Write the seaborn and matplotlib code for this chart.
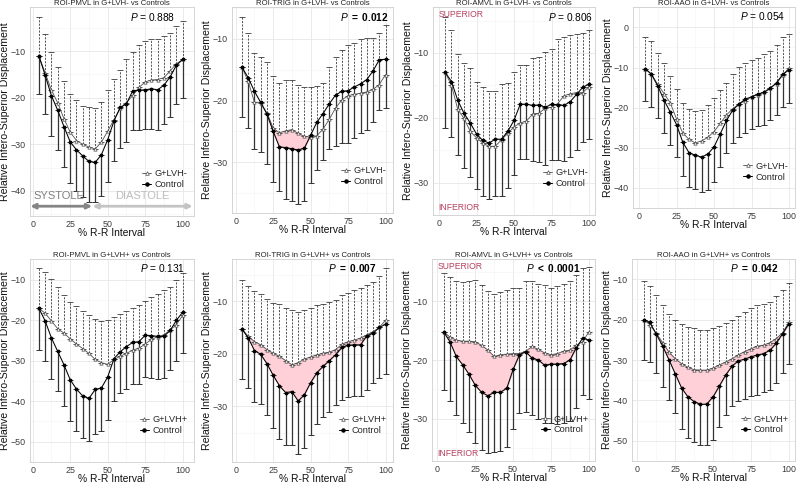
import numpy as np
import pandas as pd
import matplotlib
matplotlib.use("Agg")
import matplotlib.pyplot as plt
import seaborn as sns
from matplotlib.lines import Line2D

sns.set_theme(style="whitegrid")
plt.rcParams["font.family"] = ["Liberation Sans", "DejaVu Sans"]
plt.rcParams["mathtext.fontset"] = "custom"
plt.rcParams["mathtext.it"] = "Liberation Sans:italic"
plt.rcParams["mathtext.bf"] = "Liberation Sans:bold"
plt.rcParams["mathtext.rm"] = "Liberation Sans"

# ---------------- data ----------------
rr_pct = [4.17, 8.33, 12.5, 16.67, 20.83, 25.0, 29.17, 33.33, 37.5, 41.67, 45.83, 50.0,
          54.17, 58.33, 62.5, 66.67, 70.83, 75.0, 79.17, 83.33, 87.5, 91.67, 95.83, 100.0]

# Panel 1: ROI-PMVL, G+LVH- vs Controls
pmvl_neg_g_mean = [-11.1, -14.7, -18.4, -21.1, -24.5, -27.4, -29.2, -30.0, -30.6, -31.0, -29.5, -27.2,
                   -24.7, -22.3, -21.1, -19.5, -17.8, -16.6, -16.2, -16.1, -15.7, -14.2, -12.7, -11.8]
pmvl_neg_g_upper = [-2.6, -6.3, -10.1, -13.4, -16.5, -19.3, -20.6, -21.7, -22.0, -22.3, -21.0, -18.3,
                    -15.9, -14.0, -11.6, -10.1, -8.7, -7.8, -7.4, -7.3, -6.8, -6.1, -4.6, -3.5]
pmvl_neg_c_mean = [-11.1, -15.2, -19.6, -22.7, -26.2, -29.5, -31.2, -32.5, -33.7, -33.9, -32.2, -29.0,
                   -25.0, -22.1, -21.3, -18.5, -18.4, -18.3, -18.1, -18.3, -17.3, -15.5, -13.0, -11.8]
pmvl_neg_c_lower = [-19.3, -23.6, -28.2, -31.2, -34.9, -38.4, -40.0, -41.4, -42.4, -42.5, -41.1, -38.0,
                    -33.6, -30.7, -29.5, -27.0, -26.9, -26.8, -26.7, -26.9, -25.7, -24.1, -21.3, -20.1]

# Panel 2: ROI-TRIG, G+LVH- vs Controls
trig_neg_g_mean = [-14.6, -16.9, -20.3, -20.4, -22.0, -24.5, -25.2, -24.9, -24.7, -25.3, -25.8, -25.9,
                   -25.7, -24.6, -23.0, -21.2, -19.9, -19.2, -19.0, -18.8, -18.6, -18.2, -17.4, -15.8]
trig_neg_g_upper = [-6.4, -9.1, -12.3, -12.9, -13.7, -16.0, -17.1, -16.6, -16.6, -17.4, -17.8, -17.8,
                    -17.6, -17.1, -14.5, -13.0, -11.8, -11.0, -10.6, -10.0, -9.9, -9.8, -9.1, -7.7]
trig_neg_c_mean = [-14.6, -16.3, -18.5, -20.3, -22.2, -25.0, -27.5, -27.6, -27.8, -28.0, -27.7, -25.6,
                   -23.5, -22.1, -20.5, -19.1, -18.5, -18.4, -17.8, -17.3, -16.6, -15.2, -13.4, -13.3]
trig_neg_c_lower = [-22.6, -24.4, -27.9, -28.4, -30.2, -33.2, -34.6, -35.9, -36.3, -36.7, -36.3, -33.4,
                    -31.3, -29.6, -27.8, -27.3, -26.9, -26.8, -26.0, -25.3, -24.8, -23.4, -21.5, -21.2]

# Panel 3: ROI-AMVL, G+LVH- vs Controls
amvl_neg_g_mean = [-13.0, -15.0, -18.7, -20.1, -22.1, -23.1, -23.9, -24.4, -24.4, -23.4, -22.4, -21.4,
                   -20.8, -20.5, -19.4, -19.3, -18.5, -18.4, -17.8, -16.6, -16.3, -16.1, -16.1, -15.2]
amvl_neg_g_upper = [-4.5, -6.5, -10.1, -11.5, -12.3, -14.4, -15.3, -15.9, -15.9, -14.8, -14.6, -13.0,
                    -11.9, -11.8, -10.8, -10.6, -9.8, -9.4, -7.8, -7.5, -7.3, -7.1, -6.9, -6.5]
amvl_neg_c_mean = [-13.0, -14.4, -17.3, -19.3, -20.8, -22.5, -23.5, -23.9, -23.3, -23.3, -22.1, -20.4,
                   -17.9, -17.9, -18.1, -18.0, -18.4, -17.9, -18.0, -18.1, -17.5, -16.4, -15.3, -14.8]
amvl_neg_c_lower = [-21.5, -22.9, -25.8, -27.8, -29.1, -31.0, -32.1, -32.6, -32.0, -32.0, -30.8, -28.9,
                    -26.4, -26.4, -26.6, -26.8, -27.3, -26.5, -26.5, -26.7, -26.1, -25.0, -23.7, -23.2]

# Panel 4: ROI-AAO, G+LVH- vs Controls
aao_neg_g_mean = [-10.3, -11.7, -14.2, -16.5, -18.8, -22.8, -26.3, -27.9, -28.8, -28.3, -27.4, -26.0,
                  -23.9, -21.8, -20.3, -19.1, -18.3, -17.3, -16.8, -16.1, -15.0, -14.0, -11.9, -10.1]
aao_neg_g_upper = [-2.4, -3.5, -6.3, -8.9, -12.0, -15.4, -18.8, -20.3, -20.9, -20.5, -19.4, -17.7,
                   -15.5, -13.8, -11.7, -9.9, -8.9, -8.2, -7.7, -6.6, -5.9, -4.5, -2.4, -1.7]
aao_neg_c_mean = [-10.3, -11.7, -14.6, -18.1, -21.1, -24.2, -28.6, -31.2, -31.9, -32.3, -31.6, -29.8,
                  -26.5, -23.2, -20.6, -19.1, -17.9, -17.3, -16.6, -16.2, -15.2, -13.8, -11.7, -10.6]
aao_neg_c_lower = [-18.3, -19.8, -22.6, -26.2, -29.3, -32.3, -37.0, -39.7, -40.3, -41.0, -40.6, -38.4,
                   -34.7, -31.4, -28.8, -27.2, -26.3, -25.3, -24.6, -24.2, -23.0, -21.8, -19.9, -18.8]

# Panel 5: ROI-PMVL, G+LVH+ vs Controls
pmvl_pos_g_mean = [-17.1, -18.3, -20.2, -22.1, -23.2, -24.6, -25.9, -27.0, -28.2, -29.7, -30.5, -30.9,
                   -29.7, -28.9, -28.2, -27.4, -26.9, -25.9, -24.7, -24.1, -23.6, -22.4, -21.1, -18.8]
pmvl_pos_g_upper = [-7.0, -8.1, -9.9, -11.8, -13.7, -15.4, -16.5, -17.7, -18.8, -19.8, -20.2, -19.9,
                    -19.2, -18.4, -17.7, -17.1, -16.2, -15.2, -14.2, -13.5, -12.5, -11.8, -10.2, -8.3]
pmvl_pos_c_mean = [-17.1, -20.2, -24.4, -27.7, -31.0, -34.7, -37.0, -38.7, -39.3, -37.1, -36.7, -34.0,
                   -29.5, -27.8, -26.5, -25.5, -25.3, -23.7, -23.8, -24.0, -24.0, -22.5, -20.0, -18.0]
pmvl_pos_c_lower = [-27.4, -30.1, -34.5, -37.6, -41.2, -45.0, -47.3, -49.2, -49.9, -48.2, -47.3, -44.6,
                    -40.0, -37.9, -37.0, -35.8, -35.8, -34.1, -34.3, -34.5, -34.3, -32.4, -30.1, -28.2]

# Panel 6: ROI-TRIG, G+LVH+ vs Controls
trig_pos_g_mean = [-15.3, -16.7, -17.7, -18.3, -19.2, -19.9, -20.5, -21.3, -22.1, -21.7, -21.0, -20.6,
                   -20.2, -19.9, -19.7, -19.2, -18.2, -17.7, -17.4, -17.0, -16.4, -15.8, -15.0, -13.6]
trig_pos_g_upper = [-5.9, -7.1, -8.1, -8.6, -9.5, -10.3, -10.6, -11.3, -11.7, -12.0, -11.7, -11.2,
                    -10.8, -10.5, -10.1, -9.8, -8.9, -8.4, -7.9, -7.5, -7.0, -6.4, -5.3, -3.6]
trig_pos_c_mean = [-15.3, -17.0, -19.4, -20.1, -21.9, -24.1, -26.1, -27.4, -27.2, -29.0, -27.8, -25.5,
                   -23.6, -22.4, -21.3, -20.2, -18.8, -18.4, -18.3, -18.3, -16.6, -16.1, -15.0, -14.4]
trig_pos_c_lower = [-24.9, -26.6, -29.1, -29.6, -31.6, -34.1, -36.2, -37.4, -37.4, -39.0, -37.9, -35.4,
                    -33.3, -32.1, -31.0, -29.7, -28.8, -28.3, -28.0, -28.0, -26.9, -25.5, -24.6, -23.8]

# Panel 7: ROI-AMVL, G+LVH+ vs Controls
amvl_pos_g_mean = [-15.2, -16.1, -16.6, -16.8, -16.8, -16.9, -17.5, -18.3, -19.4, -19.1, -19.0, -18.9,
                   -18.9, -18.5, -17.7, -18.2, -18.8, -19.1, -18.9, -18.5, -18.3, -17.5, -16.9, -15.2]
amvl_pos_g_upper = [-5.1, -5.8, -6.6, -6.8, -6.5, -6.3, -7.2, -8.3, -8.7, -8.4, -8.0, -7.8,
                    -7.8, -6.6, -6.5, -7.0, -7.3, -7.8, -7.4, -7.0, -6.5, -5.6, -4.4, -4.2]
amvl_pos_c_mean = [-15.2, -16.9, -19.4, -20.8, -22.4, -24.3, -25.5, -26.1, -25.5, -25.5, -24.8, -21.6,
                   -19.1, -18.6, -19.7, -20.0, -20.9, -20.7, -20.7, -20.6, -20.0, -17.9, -16.3, -16.6]
amvl_pos_c_lower = [-25.1, -27.0, -29.3, -30.7, -32.2, -34.1, -35.3, -35.9, -35.6, -35.5, -34.9, -31.8,
                    -29.0, -28.8, -29.4, -30.1, -30.7, -30.7, -30.9, -30.7, -30.4, -28.1, -26.0, -26.6]

# Panel 8: ROI-AAO, G+LVH+ vs Controls
aao_pos_g_mean = [-20.0, -21.3, -23.4, -25.7, -28.0, -29.7, -30.9, -31.8, -32.4, -32.5, -32.5, -32.0,
                  -31.2, -30.5, -29.7, -28.7, -27.9, -27.2, -26.6, -26.3, -25.7, -24.7, -23.2, -20.7]
aao_pos_g_upper = [-10.4, -11.8, -13.9, -16.3, -18.5, -20.0, -21.1, -21.8, -22.2, -22.5, -22.5, -22.2,
                   -21.7, -20.9, -20.0, -19.2, -18.1, -17.2, -16.5, -16.1, -15.6, -14.2, -12.7, -10.9]
aao_pos_c_mean = [-20.0, -20.7, -23.6, -26.5, -29.9, -33.4, -36.9, -39.1, -40.3, -41.0, -40.9, -39.1,
                  -36.4, -33.7, -31.5, -30.2, -29.8, -29.2, -28.8, -28.4, -27.6, -25.8, -23.5, -21.0]
aao_pos_c_lower = [-29.9, -30.5, -33.2, -36.6, -39.8, -43.2, -47.2, -49.2, -50.4, -51.0, -51.0, -49.8,
                   -46.6, -43.5, -41.3, -40.1, -39.7, -39.0, -38.6, -38.0, -37.4, -35.6, -33.2, -30.9]

titles = ["ROI-PMVL in G+LVH- vs Controls", "ROI-TRIG in G+LVH- vs Controls",
          "ROI-AMVL in G+LVH- vs Controls", "ROI-AAO in G+LVH- vs Controls",
          "ROI-PMVL in G+LVH+ vs Controls", "ROI-TRIG in G+LVH+ vs Controls",
          "ROI-AMVL in G+LVH+ vs Controls", "ROI-AAO in G+LVH+ vs Controls"]
group_labels = ["G+LVH-"] * 4 + ["G+LVH+"] * 4
p_relations = ["=", "=", "=", "=", "=", "=", "<", "="]
p_values = ["0.888", "0.012", "0.806", "0.054", "0.131", "0.007", "0.0001", "0.042"]
p_significant = [False, True, False, False, False, True, True, True]
# significant interval (x range that is shaded), None = no shading
sig_start = [None, 25.0, None, None, None, 8.33, 4.17, 16.67]
sig_end = [None, 50.0, None, None, None, 87.5, 91.67, 100.0]
y_ticks = [[-10, -20, -30, -40], [-10, -20, -30], [-10, -20, -30], [0, -10, -20, -30, -40],
           [-10, -20, -30, -40, -50], [-10, -20, -30], [-10, -20, -30], [-10, -20, -30, -40, -50]]
x_ticks = [0, 25, 50, 75, 100]

series = [
    (pmvl_neg_g_mean, pmvl_neg_g_upper, pmvl_neg_c_mean, pmvl_neg_c_lower),
    (trig_neg_g_mean, trig_neg_g_upper, trig_neg_c_mean, trig_neg_c_lower),
    (amvl_neg_g_mean, amvl_neg_g_upper, amvl_neg_c_mean, amvl_neg_c_lower),
    (aao_neg_g_mean, aao_neg_g_upper, aao_neg_c_mean, aao_neg_c_lower),
    (pmvl_pos_g_mean, pmvl_pos_g_upper, pmvl_pos_c_mean, pmvl_pos_c_lower),
    (trig_pos_g_mean, trig_pos_g_upper, trig_pos_c_mean, trig_pos_c_lower),
    (amvl_pos_g_mean, amvl_pos_g_upper, amvl_pos_c_mean, amvl_pos_c_lower),
    (aao_pos_g_mean, aao_pos_g_upper, aao_pos_c_mean, aao_pos_c_lower),
]

# ---------------- layout (pixels) ----------------
W, H = 800, 484
# left, right, top, bottom in px
boxes = [(30, 194, 7.3, 216), (232, 393, 7.3, 213), (433, 595, 7.3, 215), (633, 795, 7.3, 208),
         (30, 194, 259, 462), (232, 393, 259, 462), (432, 595, 259, 461), (632, 795, 259, 461)]
ylims = [(-45.4, -0.6), (-38.2, -4.9), (-34.1, -2.95), (-41.45, 0.42),
         (-51.8, -4.9), (-40.6, -1.97), (-37.2, -2.8), (-52.2, -8.57)]
xlims = [(-1.8, 107.5), (-2.5, 105.0), (-4.0, 104.0), (-4.0, 104.0),
         (-1.8, 107.5), (-2.5, 105.0), (-3.5, 104.0), (-3.5, 104.0)]
p_xfrac = [0.885, 0.975, 0.99, 0.94, 0.945, 0.90, 0.91, 0.90]

fig = plt.figure(figsize=(8.0, 4.84), dpi=100)
fig.patch.set_facecolor("white")

x = np.array(rr_pct)
zeros = np.zeros_like(x)
label_red = "#b7405e"

for i in range(8):
    l, r, t, b = boxes[i]
    ax = fig.add_axes([l / W, 1 - b / H, (r - l) / W, (b - t) / H])
    g_mean, g_up, c_mean, c_low = [np.array(v) for v in series[i]]
    glab = group_labels[i]

    # shaded significant region
    if sig_start[i] is not None:
        mask = (x >= sig_start[i] - 0.01) & (x <= sig_end[i] + 0.01)
        ax.fill_between(x, g_mean, c_mean, where=mask, interpolate=True,
                        facecolor="#ffd0d7", edgecolor="#f0b0ba", lw=0.5, zorder=1)

    # error bars: G upper (dashed), Control lower (solid)
    eb = ax.errorbar(x, g_mean, yerr=[zeros, g_up - g_mean], fmt="none", ecolor="#3a3a3a",
                     elinewidth=0.6, capsize=2.0, capthick=0.6, zorder=2)
    for lc in eb[2]:
        lc.set_linestyle((0, (2.5, 1.6)))
    ax.errorbar(x, c_mean, yerr=[c_mean - c_low, zeros], fmt="none", ecolor="#333333",
                elinewidth=0.9, capsize=2.0, capthick=0.7, zorder=2)

    # mean lines
    df_g = pd.DataFrame({"x": x, "y": g_mean})
    df_c = pd.DataFrame({"x": x, "y": c_mean})
    sns.lineplot(data=df_g, x="x", y="y", ax=ax, color="#505050", lw=0.6, marker="^",
                 markersize=2.4, markerfacecolor="white", markeredgecolor="#505050",
                 markeredgewidth=0.5, zorder=3, legend=False)
    sns.lineplot(data=df_c, x="x", y="y", ax=ax, color="black", lw=0.75, marker="o",
                 markersize=2.0, markerfacecolor="black", markeredgecolor="black",
                 zorder=4, legend=False)

    # axes styling (ggplot-like)
    ax.set_xlim(*xlims[i])
    ax.set_ylim(*ylims[i])
    ax.set_xticks(x_ticks)
    ax.set_yticks(y_ticks[i])
    ax.set_xticks([12.5, 37.5, 62.5, 87.5], minor=True)
    yt = y_ticks[i]
    ax.set_yticks([v - 5 for v in yt] + [yt[0] + 5], minor=True)
    ax.grid(True, which="major", color="#e6e6e6", lw=0.6)
    ax.grid(True, which="minor", color="#f3f3f3", lw=0.4)
    ax.set_facecolor("white")
    for s in ax.spines.values():
        s.set_color("#cfcfcf")
        s.set_linewidth(0.6)
    ax.tick_params(axis="both", which="major", length=2.0, width=0.5, color="#555555",
                   labelsize=6.4, labelcolor="#3c3c3c", pad=0.8)
    ax.tick_params(axis="both", which="minor", length=0)
    ax.set_xlabel("% R-R Interval", fontsize=7.4, labelpad=-0.8, color="#111111")
    ax.set_ylabel("Relative Infero-Superior Displacement", fontsize=7.6, labelpad=1.0,
                  color="#111111")
    ax.set_title(titles[i], fontsize=5.6, pad=1.5, color="#222222")

    # p value
    if p_significant[i]:
        ptxt = r"$P$ " + r"$\mathbf{" + p_relations[i] + r"\ " + p_values[i] + r"}$"
        ax.text(p_xfrac[i], 0.955, ptxt, transform=ax.transAxes, ha="right", va="center",
                fontsize=7.3, fontweight="bold", color="black")
    else:
        ptxt = r"$P$ " + p_relations[i] + " " + p_values[i]
        ax.text(p_xfrac[i], 0.955, ptxt, transform=ax.transAxes, ha="right", va="center",
                fontsize=7.3, color="black")

    # legend
    handles = [Line2D([], [], color="#505050", lw=0.6, marker="^", markersize=2.6,
                      markerfacecolor="white", markeredgecolor="#505050", markeredgewidth=0.5),
               Line2D([], [], color="black", lw=0.75, marker="o", markersize=2.2)]
    ax.legend(handles, [glab, "Control"], loc="lower right", bbox_to_anchor=(1.0, 0.1),
              frameon=False, fontsize=6.6, handlelength=1.0, handletextpad=0.4,
              labelspacing=0.2, borderaxespad=0.3)

    # SUPERIOR / INFERIOR labels for AMVL panels
    if i in (2, 6):
        ax.text(0.035, 0.965, "SUPERIOR", transform=ax.transAxes, ha="left", va="center",
                fontsize=6.2, color=label_red)
        ax.text(0.035, 0.035, "INFERIOR", transform=ax.transAxes, ha="left", va="center",
                fontsize=6.2, color=label_red)

    # systole / diastole arrows on first panel
    if i == 0:
        ax.annotate("", xy=(-1.6, -43.3), xytext=(39.6, -43.3),
                    arrowprops=dict(arrowstyle="<|-|>", color="#858585", lw=2.0,
                                    mutation_scale=7, shrinkA=0, shrinkB=0), zorder=5)
        ax.annotate("", xy=(39.9, -43.3), xytext=(106.6, -43.3),
                    arrowprops=dict(arrowstyle="<|-|>", color="#c4c4c4", lw=2.0,
                                    mutation_scale=7, shrinkA=0, shrinkB=0), zorder=5)
        ax.text(17.5, -41.1, "SYSTOLE", ha="center", va="center", fontsize=8,
                color="#808080", zorder=5)
        ax.text(73.0, -41.1, "DIASTOLE", ha="center", va="center", fontsize=8,
                color="#bdbdbd", zorder=5)

fig.savefig("out.png", dpi=100, facecolor="white")
